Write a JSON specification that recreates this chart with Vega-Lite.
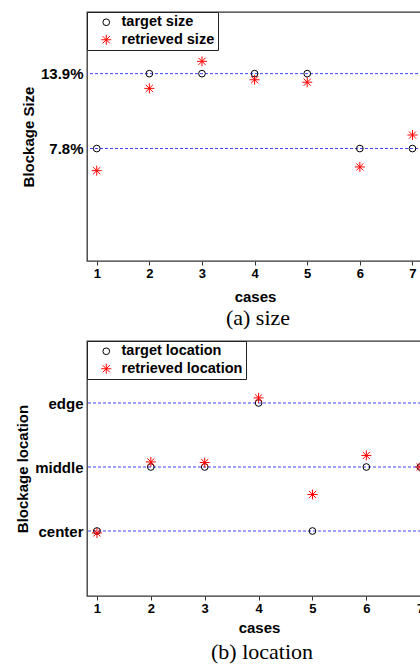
{
  "$schema": "https://vega.github.io/schema/vega-lite/v6.json",
  "padding": {"left": 15, "top": 10, "right": 0, "bottom": 0},
  "background": "white",
  "bounds": "flush",
  "spacing": 80,
  "config": {
    "view": {"stroke": "#333333", "strokeWidth": 1.3},
    "font": "Liberation Sans",
    "axis": {
      "grid": false, "domain": false,
      "labelFont": "Liberation Sans", "labelFontWeight": "bold", "labelColor": "black",
      "titleFont": "Liberation Sans", "titleFontWeight": "bold", "titleColor": "black",
      "tickColor": "#333333"
    },
    "legend": {
      "orient": "top-left", "offset": 0, "padding": 3,
      "strokeColor": "#222222", "strokeWidth": 1, "fillColor": "white",
      "labelFont": "Liberation Sans", "labelFontWeight": "bold", "labelFontSize": 14.5, "labelColor": "black",
      "symbolSize": 16, "symbolStrokeWidth": 1, "symbolOffset": 9, "labelOffset": 8, "rowPadding": 2.5
    },
    "title": {"font": "Liberation Serif", "fontSize": 22, "fontWeight": "normal", "color": "black", "orient": "bottom", "anchor": "middle", "offset": 4}
  },
  "vconcat": [
    {
      "width": 336, "height": 249,
      "title": {"text": "(a) size", "dx": 3},
      "layer": [
        {
          "data": {"values": [{"level": 13.9}, {"level": 7.8}]},
          "mark": {"type": "rule", "color": "#4040ff", "strokeDash": [3, 2], "strokeWidth": 1},
          "encoding": {"y": {"field": "level", "type": "quantitative"}}
        },
        {
          "data": {"values": [
            {"case": 1, "value": 7.8, "series": "target size"},
            {"case": 2, "value": 13.9, "series": "target size"},
            {"case": 3, "value": 13.9, "series": "target size"},
            {"case": 4, "value": 13.9, "series": "target size"},
            {"case": 5, "value": 13.9, "series": "target size"},
            {"case": 6, "value": 7.8, "series": "target size"},
            {"case": 7, "value": 7.8, "series": "target size"},
            {"case": 1, "value": 6.0, "series": "retrieved size"},
            {"case": 2, "value": 12.7, "series": "retrieved size"},
            {"case": 3, "value": 14.9, "series": "retrieved size"},
            {"case": 4, "value": 13.4, "series": "retrieved size"},
            {"case": 5, "value": 13.2, "series": "retrieved size"},
            {"case": 6, "value": 6.3, "series": "retrieved size"},
            {"case": 7, "value": 8.9, "series": "retrieved size"}
          ]},
          "mark": {"type": "point", "filled": false, "strokeWidth": 1, "opacity": 1},
          "encoding": {
            "x": {"field": "case", "type": "quantitative",
                  "scale": {"domain": [0.815, 7.2], "nice": false, "zero": false},
                  "axis": {"values": [1, 2, 3, 4, 5, 6, 7], "format": "d", "tickSize": 4, "labelFontSize": 13, "labelPadding": 2, "title": "cases", "titleFontSize": 15, "titlePadding": 9}},
            "y": {"field": "value", "type": "quantitative",
                  "scale": {"domain": [-1.36, 18.92], "nice": false, "zero": false},
                  "axis": {"values": [7.8, 13.9], "labelExpr": "format(datum.value, '.1f') + '%'", "ticks": false, "labelFontSize": 15, "labelPadding": 4, "title": "Blockage Size", "titleFontSize": 15, "titlePadding": 4}},
            "color": {"field": "series", "type": "nominal",
                      "scale": {"domain": ["target size", "retrieved size"], "range": ["black", "red"]},
                      "legend": {"title": null}},
            "shape": {"field": "series", "type": "nominal",
                      "scale": {"domain": ["target size", "retrieved size"], "range": ["circle", "M-1,0L1,0M0,-1L0,1M-0.71,-0.71L0.71,0.71M-0.71,0.71L0.71,-0.71"]},
                      "legend": {"title": null}},
            "size": {"field": "series", "type": "nominal",
                     "scale": {"domain": ["target size", "retrieved size"], "range": [45, 100]},
                     "legend": null}
          }
        }
      ]
    },
    {
      "width": 344, "height": 255,
      "title": {"text": "(b) location", "dx": 3, "offset": 7},
      "layer": [
        {
          "data": {"values": [{"level": 3}, {"level": 2}, {"level": 1}]},
          "mark": {"type": "rule", "color": "#4040ff", "strokeDash": [3, 2], "strokeWidth": 1},
          "encoding": {"y": {"field": "level", "type": "quantitative"}}
        },
        {
          "data": {"values": [
            {"case": 1, "value": 1, "series": "target location"},
            {"case": 2, "value": 2, "series": "target location"},
            {"case": 3, "value": 2, "series": "target location"},
            {"case": 4, "value": 3, "series": "target location"},
            {"case": 5, "value": 1, "series": "target location"},
            {"case": 6, "value": 2, "series": "target location"},
            {"case": 7, "value": 2, "series": "target location"},
            {"case": 1, "value": 0.97, "series": "retrieved location"},
            {"case": 2, "value": 2.08, "series": "retrieved location"},
            {"case": 3, "value": 2.07, "series": "retrieved location"},
            {"case": 4, "value": 3.08, "series": "retrieved location"},
            {"case": 5, "value": 1.57, "series": "retrieved location"},
            {"case": 6, "value": 2.18, "series": "retrieved location"},
            {"case": 7, "value": 2.0, "series": "retrieved location"}
          ]},
          "mark": {"type": "point", "filled": false, "strokeWidth": 1, "opacity": 1},
          "encoding": {
            "x": {"field": "case", "type": "quantitative",
                  "scale": {"domain": [0.815, 7.2], "nice": false, "zero": false},
                  "axis": {"values": [1, 2, 3, 4, 5, 6, 7], "format": "d", "tickSize": 4, "labelFontSize": 13, "labelPadding": 2, "title": "cases", "titleFontSize": 15, "titlePadding": 5}},
            "y": {"field": "value", "type": "quantitative",
                  "scale": {"domain": [-0.0156, 3.9688], "nice": false, "zero": false},
                  "axis": {"values": [1, 2, 3], "labelExpr": "datum.value == 1 ? 'center' : datum.value == 2 ? 'middle' : 'edge'", "ticks": false, "labelFontSize": 15, "labelPadding": 4, "title": "Blockage location", "titleFontSize": 15, "titlePadding": 4}},
            "color": {"field": "series", "type": "nominal",
                      "scale": {"domain": ["target location", "retrieved location"], "range": ["black", "red"]},
                      "legend": {"title": null}},
            "shape": {"field": "series", "type": "nominal",
                      "scale": {"domain": ["target location", "retrieved location"], "range": ["circle", "M-1,0L1,0M0,-1L0,1M-0.71,-0.71L0.71,0.71M-0.71,0.71L0.71,-0.71"]},
                      "legend": {"title": null}},
            "size": {"field": "series", "type": "nominal",
                     "scale": {"domain": ["target location", "retrieved location"], "range": [45, 100]},
                     "legend": null}
          }
        }
      ]
    }
  ],
  "resolve": {"scale": {"color": "independent", "shape": "independent", "size": "independent", "x": "independent", "y": "independent"}}
}
